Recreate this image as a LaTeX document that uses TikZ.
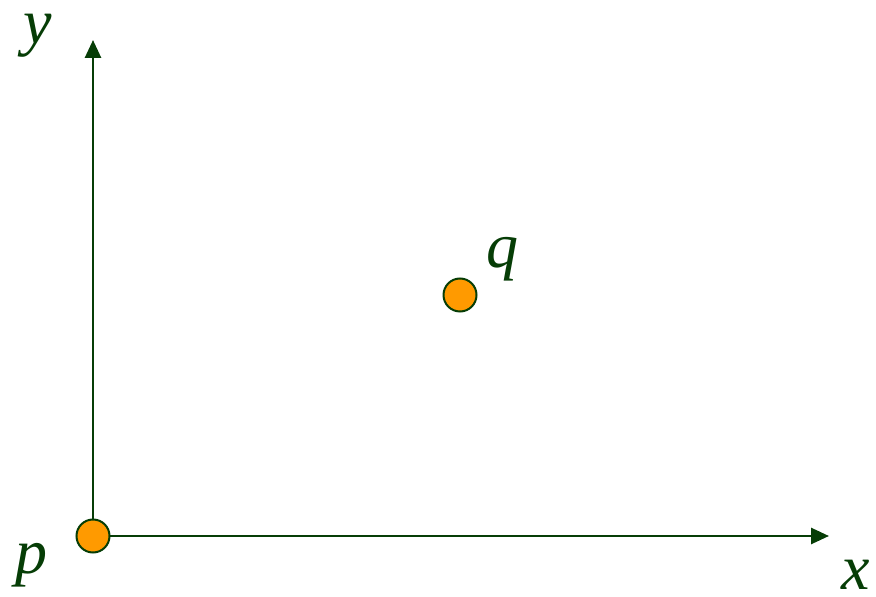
\documentclass[tikz,border=0pt]{standalone}
\usepackage{fontspec}
\setmainfont{Liberation Serif}
\usetikzlibrary{arrows.meta}
\definecolor{axisgreen}{HTML}{063D06}
\definecolor{dotorange}{HTML}{FF9A00}
\tikzset{
  axis/.style={draw=axisgreen, line width=1.35pt, -{Triangle[length=9pt,width=8pt]}},
  dot/.style={circle, draw=axisgreen, line width=1pt, fill=dotorange, minimum size=16.5pt, inner sep=0pt},
  lbl/.style={text=axisgreen, font=\fontsize{32}{36}\selectfont\itshape, anchor=base, inner sep=0pt}
}
\begin{document}
\begin{tikzpicture}[x=0.5pt,y=-0.5pt]
\useasboundingbox (0,0) rectangle (876,597);
\coordinate (o) at (93,536);
\coordinate (ytip) at (93,40);
\coordinate (xtip) at (829,536);
\draw[axis] (o) -- (ytip);
\draw[axis] (o) -- (xtip);
\node[dot] (p) at (93,536) {};
\node[dot] (q) at (460,295) {};
\node[lbl] (ly) at (38,44) {y};
\node[lbl] (lx) at (856,589) {x};
\node[lbl] (lp) at (31,573) {p};
\node[lbl] (lq) at (502,268) {q};
\end{tikzpicture}
\end{document}
